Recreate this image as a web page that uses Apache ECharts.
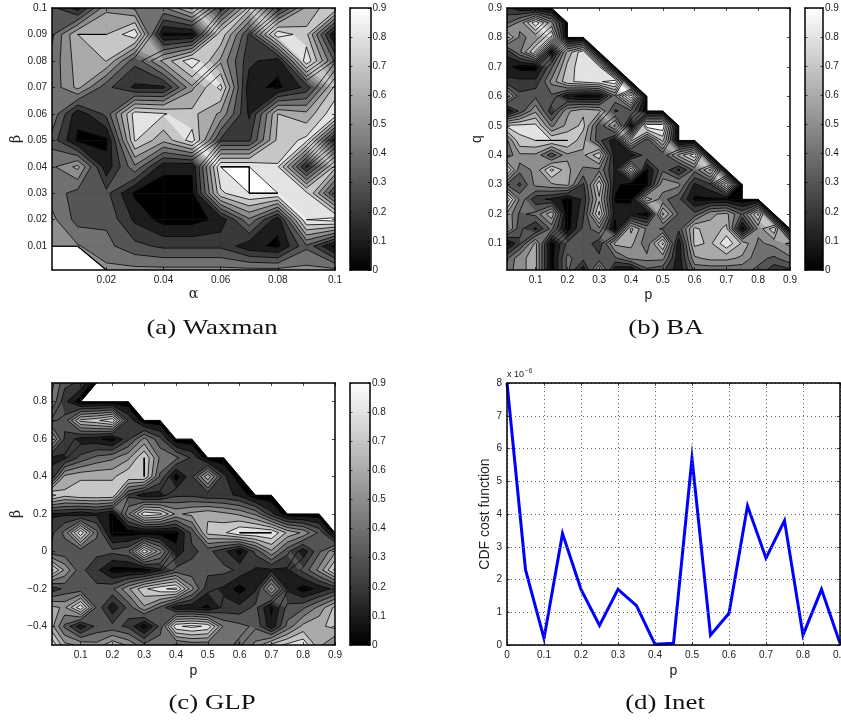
<!DOCTYPE html>
<html><head><meta charset="utf-8">
<style>html,body{margin:0;padding:0;background:#fff;overflow:hidden}#c{width:841px;height:721px}</style>
<script src="https://cdn.jsdelivr.net/npm/echarts@6/dist/echarts.min.js"></script>
</head><body><div id="c"></div>
<script>
const contourLevels=[0.0001,0.07,0.17,0.27,0.37,0.47,0.57,0.67,0.77,0.87];
const colorbarRange=[0,0.9];
const colorbarTicks=[0,0.1,0.2,0.3,0.4,0.5,0.6,0.7,0.8,0.9];

const waxmanAlpha=[0.001,0.01,0.02,0.03,0.04,0.05,0.06,0.07,0.08,0.09,0.1];
const waxmanBeta=[0.1,0.09,0.08,0.07,0.06,0.05,0.04,0.03,0.02,0.01,0.001];
const waxmanTicks=[0.01,0.02,0.03,0.04,0.05,0.06,0.07,0.08,0.09,0.1];
const waxmanXTicks=[0.02,0.04,0.06,0.08,0.1];
const waxmanValues=[
[.3,.12,.55,.45,.45,.7,.2,.7,.2,.6,.75],
[.35,.67,.67,.85,.05,.05,.75,.25,.85,.7,.05],
[.4,.62,.672,.3,.6,.85,.55,.2,.1,.85,.35],
[.4,.6,.3,.15,.15,.55,.8,.1,.05,.2,.7],
[.45,.1,.3,.82,.78,.7,.55,.15,.67,.6,.85],
[.33,.05,.05,.78,.6,.82,.25,.25,.7,.8,.1],
[.45,.6,.1,.45,.1,.08,.87,.87,.78,.15,.7],
[.42,.33,.3,.05,0.01,.05,.75,.87,.87,.8,.25],
[.5,.33,.35,.15,.03,.03,.1,.45,.1,.87,.92],
[.55,.48,.4,.3,.25,.25,.25,.1,.05,.35,.03],
[null,null,.5,.5,.5,.5,.5,.5,.5,.5,.5]];

const baP=[0.01,0.05,0.1,0.15,0.2,0.25,0.3,0.35,0.4,0.45,0.5,0.55,0.6,0.65,0.7,0.75,0.8,0.85,0.9];
const baQ=[0.9,0.85,0.8,0.75,0.7,0.65,0.6,0.55,0.5,0.45,0.4,0.35,0.3,0.25,0.2,0.15,0.1,0.05,0.01];
const baTicks=[0.1,0.2,0.3,0.4,0.5,0.6,0.7,0.8,0.9];
const baValues=[
[.2,.1,.05,0,0,0,0,0,0,0,0,0,0,0,0,0,0,0,0],
[.35,.5,.85,.5,0,0,0,0,0,0,0,0,0,0,0,0,0,0,0],
[.7,.45,.5,.8,0,0,0,0,0,0,0,0,0,0,0,0,0,0,0],
[.2,.45,.8,.05,.6,.85,0,0,0,0,0,0,0,0,0,0,0,0,0],
[.1,.03,.03,.35,.7,.85,.8,0,0,0,0,0,0,0,0,0,0,0,0],
[.2,.2,.2,.5,.75,.8,.85,.95,0,0,0,0,0,0,0,0,0,0,0],
[.65,.3,.35,.35,.1,.03,.05,.45,.95,0,0,0,0,0,0,0,0,0,0],
[.05,.3,.55,.2,.55,.65,.6,.25,.35,0,0,0,0,0,0,0,0,0,0],
[.8,.8,.8,.45,.6,.7,.3,.6,.03,.95,.95,0,0,0,0,0,0,0,0],
[.45,.75,.77,.77,.77,.6,.3,.1,.7,.3,.7,0,0,0,0,0,0,0,0],
[.4,.55,.55,.3,.55,.55,.75,.1,.1,.35,.3,.6,.85,0,0,0,0,0,0],
[.8,.4,.5,.8,.6,.45,.45,.15,.75,.05,.35,.15,.4,.7,0,0,0,0,0],
[.35,.25,.5,.55,.6,.25,.75,.1,.01,.05,.55,.5,.15,.25,.75,0,0,0,0],
[.85,.45,.2,.15,.02,.2,.65,.06,.06,.65,.4,.3,.05,.05,.05,0,0,0,0],
[.55,.35,.4,.65,.01,.25,.8,.1,.1,.02,.7,.35,.3,.55,.6,.35,.8,0,0],
[.6,.3,.15,.4,.02,.3,.45,.02,.7,.45,.35,.3,.7,.6,.7,.02,.5,.75,0],
[.03,.25,.6,.02,.3,.35,.2,.6,.6,.4,.8,.1,.7,.65,.85,.65,.45,.5,.6],
[.35,.55,.6,.02,.4,.3,.3,.35,.5,.5,.5,.1,.55,.6,.6,.55,.4,.35,.45],
[.4,.55,.6,.02,.4,.1,.6,.1,.05,.35,.3,.1,.4,.4,.4,.4,.35,.2,.25]];

const glpP=[0.01,0.05,0.1,0.15,0.2,0.25,0.3,0.35,0.4,0.45,0.5,0.55,0.6,0.65,0.7,0.75,0.8,0.85,0.9];
const glpBeta=[0.9,0.8,0.7,0.6,0.5,0.4,0.3,0.2,0.1,0,-0.1,-0.2,-0.3,-0.4,-0.5];
const glpYTicks=[-0.4,-0.2,0,0.2,0.4,0.6,0.8];
const glpValues=[
[.5,.3,.25,0,0,0,0,0,0,0,0,0,0,0,0,0,0,0,0],
[.45,.2,0,0,0,0,0,0,0,0,0,0,0,0,0,0,0,0,0],
[.25,.3,.7,.75,.85,.25,0,0,0,0,0,0,0,0,0,0,0,0,0],
[.6,.25,.12,.1,.02,.25,.5,.3,0,0,0,0,0,0,0,0,0,0,0],
[.15,.15,.3,.4,.45,.55,.77,.45,.4,.25,0,0,0,0,0,0,0,0,0],
[.2,.6,.65,.65,.65,.75,.77,.35,.02,.25,.65,.2,0,0,0,0,0,0,0],
[.8,.7,.75,.75,.75,.25,.1,.12,.25,.25,.2,.2,.15,0,0,0,0,0,0],
[.15,.15,.1,.15,.05,.45,.85,.8,.55,.6,.65,.6,.55,.45,.2,0,0,0,0],
[.25,.4,.85,.4,.02,.02,0.01,0.01,.03,.3,.7,.75,.87,.87,.87,.65,.55,.35,0],
[.3,.3,.3,.3,.3,.35,.85,.5,.1,.25,.3,.2,.03,.3,.55,.3,.1,.35,.55],
[.8,.55,.3,.2,.03,.03,.02,.15,.3,.3,.3,.3,.25,.15,.15,.15,.3,.5,.8],
[.2,.3,.3,.3,.35,.55,.75,.85,.9,.5,.2,.15,.02,.15,.6,.15,.02,.1,.2],
[.6,.55,.85,.35,.1,.3,.55,.35,.1,.1,.05,.2,.2,.3,.05,.3,.35,.5,.7],
[.6,.35,.1,.3,.3,.25,.02,.3,.85,.9,.85,.45,.4,.35,.1,.4,.6,.65,.7],
[.85,.6,.55,.5,.65,.55,.4,.45,.35,.4,.4,.4,.35,.5,.7,.8,.85,.6,.45]];

const inetP=[0,0.05,0.1,0.15,0.2,0.25,0.3,0.35,0.4,0.45,0.5,0.55,0.6,0.65,0.7,0.75,0.8,0.85,0.9];
const inetCost=[8,2.3,0.2,3.4,1.7,0.6,1.7,1.2,0.02,0.05,5.7,0.3,0.97,4.25,2.65,3.8,0.3,1.7,0.05];

const sansFont='"Liberation Sans",Arial,sans-serif';
const labelColor='#222';
const grey=k=>{const g=Math.round(255*Math.min(1,k/9));return `rgb(${g},${g},${g})`;};

function clipPoly(poly,L){
  const out=[];
  for(let k=0;k<poly.length;k++){
    const a=poly[k],b=poly[(k+1)%poly.length];
    const ia=a[2]>=L,ib=b[2]>=L;
    if(ia)out.push(a);
    if(ia!==ib){const t=(L-a[2])/(b[2]-a[2]);out.push([a[0]+t*(b[0]-a[0]),a[1]+t*(b[1]-a[1]),L]);}
  }
  return out;
}
function cellPoly(xs,ys,z,i,j){
  return [[i,j+1],[i+1,j+1],[i+1,j],[i,j]].map(([c,r])=>[xs[c],ys[r],z[r][c]]);
}
function contourPanel(xs,ys,z,xi,yi){
  const cells=[];
  for(let j=0;j<ys.length-1;j++)for(let i=0;i<xs.length-1;i++)cells.push([i,j]);
  const base={type:'custom',coordinateSystem:'cartesian2d',xAxisIndex:xi,yAxisIndex:yi,silent:true,animation:false,encode:{x:[],y:[]},clip:true};
  const fill={...base,z:2,data:contourLevels.map((L,k)=>[k]),
    renderItem(p,api){
      const k=p.dataIndex,L=contourLevels[k],children=[];
      cells.forEach(([i,j])=>{
        const poly=cellPoly(xs,ys,z,i,j).filter(v=>v[2]!==null);
        if(poly.length<3)return;
        const c=clipPoly(poly,L);
        if(c.length>=3)children.push({type:'polygon',silent:true,shape:{points:c.map(v=>api.coord([v[0],v[1]]))},style:{fill:grey(k),stroke:grey(k),lineWidth:0.6}});
      });
      return {type:'group',children};
    }};
  const lines={...base,z:3,data:cells,
    renderItem(p,api){
      const [i,j]=cells[p.dataIndex];
      const all=cellPoly(xs,ys,z,i,j);
      const poly=all.filter(v=>v[2]!==null);
      const children=[];
      const seg=(a,b,w)=>{const A=api.coord(a),B=api.coord(b);children.push({type:'line',silent:true,shape:{x1:A[0],y1:A[1],x2:B[0],y2:B[1]},style:{stroke:'#000',lineWidth:w}});};
      if(poly.length===2)seg(poly[0],poly[1],1.2);
      if(poly.length===3){const m=all.findIndex(v=>v[2]===null);seg(all[(m+1)%4],all[(m+3)%4],1.2);}
      if(poly.length<3)return {type:'group',children};
      contourLevels.forEach(L=>{
        const pts=[];
        for(let k=0;k<poly.length;k++){
          const a=poly[k],b=poly[(k+1)%poly.length];
          if((a[2]>=L)!==(b[2]>=L)){const t=(L-a[2])/(b[2]-a[2]);pts.push([a[0]+t*(b[0]-a[0]),a[1]+t*(b[1]-a[1])]);}
          if(a[2]===L&&b[2]===L)seg(a,b,1.1);
        }
        if(pts.length===2)seg(pts[0],pts[1],0.8);
        if(pts.length===4){seg(pts[0],pts[1],0.8);seg(pts[2],pts[3],0.8);}
      });
      return {type:'group',children};
    }};
  return [fill,lines];
}

const grids=[],xAxes=[],yAxes=[],series=[];
const axisLine={show:true,onZero:false,lineStyle:{color:'#000',width:1.5}};
const fmt=v=>String(+(+v).toFixed(3)).replace('-','\u2212');
function addAxes(rect,xr,yr,xt,yt,xname,yname,xgap,ygap,splitDots){
  const g=grids.length;
  grids.push({left:rect[0],top:rect[1],width:rect[2],height:rect[3],outerBoundsMode:'none'});
  const tick=vals=>({show:true,inside:true,length:3,lineStyle:{color:'#000',width:0.7},customValues:vals});
  const lab=vals=>({show:true,fontFamily:sansFont,fontSize:10,color:labelColor,margin:5,formatter:fmt,customValues:vals,hideOverlap:false,showMinLabel:true,showMaxLabel:true});
  const split=splitDots?{show:true,lineStyle:{color:'#666',type:[1,3],width:1}}:{show:false};
  const xi=xAxes.length,yi=yAxes.length;
  xAxes.push({type:'value',gridIndex:g,min:xr[0],max:xr[1],position:'bottom',z:5,axisLine,axisTick:tick(xt),axisLabel:lab(xt),splitLine:split,name:xname,nameLocation:'middle',nameGap:xgap,nameTextStyle:{fontFamily:xname==='\u03b1'?'"DejaVu Serif"':sansFont,fontSize:14,color:labelColor}});
  xAxes.push({type:'value',gridIndex:g,min:xr[0],max:xr[1],position:'top',z:5,axisLine,axisTick:tick(xt),axisLabel:{show:false},splitLine:{show:false}});
  yAxes.push({type:'value',gridIndex:g,min:yr[0],max:yr[1],position:'left',z:5,axisLine,axisTick:tick(yt),axisLabel:lab(yt),splitLine:split,name:yname,nameLocation:'middle',nameGap:ygap,nameTextStyle:{fontFamily:yname==='\u03b2'?'"DejaVu Serif"':sansFont,fontSize:14,color:labelColor}});
  yAxes.push({type:'value',gridIndex:g,min:yr[0],max:yr[1],position:'right',z:5,axisLine,axisTick:tick(yt),axisLabel:{show:false},splitLine:{show:false}});
  return [xi,yi];
}
function addColorbar(rect){
  const g=grids.length;
  grids.push({left:rect[0],top:rect[1],width:rect[2],height:rect[3],outerBoundsMode:'none'});
  const xi=xAxes.length,yi=yAxes.length;
  const tick={show:true,inside:true,length:2.5,lineStyle:{color:'#000',width:0.7}};
  xAxes.push({type:'value',gridIndex:g,min:0,max:1,position:'bottom',z:5,axisLine,axisTick:{show:false},axisLabel:{show:false},splitLine:{show:false}});
  xAxes.push({type:'value',gridIndex:g,min:0,max:1,position:'top',z:5,axisLine,axisTick:{show:false},axisLabel:{show:false},splitLine:{show:false}});
  yAxes.push({type:'value',gridIndex:g,min:colorbarRange[0],max:colorbarRange[1],position:'right',z:5,axisLine,axisTick:{...tick,customValues:colorbarTicks},axisLabel:{fontFamily:sansFont,fontSize:10,color:labelColor,margin:2,formatter:fmt,customValues:colorbarTicks,showMinLabel:true,showMaxLabel:true},splitLine:{show:false}});
  yAxes.push({type:'value',gridIndex:g,min:colorbarRange[0],max:colorbarRange[1],position:'left',z:5,axisLine,axisTick:{...tick,customValues:colorbarTicks},axisLabel:{show:false},splitLine:{show:false}});
  series.push({type:'custom',coordinateSystem:'cartesian2d',xAxisIndex:xi,yAxisIndex:yi,z:2,silent:true,animation:false,data:[[0,colorbarRange[0]]],encode:{x:[],y:[]},
    renderItem(p,api){
      const a=api.coord([0,colorbarRange[0]]),b=api.coord([1,colorbarRange[1]]);
      return {type:'rect',shape:{x:a[0],y:b[1],width:b[0]-a[0],height:a[1]-b[1]},style:{fill:new echarts.graphic.LinearGradient(0,1,0,0,[{offset:0,color:'#000'},{offset:1,color:'#fff'}])}};
    }});
}

let ax=addAxes([52,8,283,262],[0.001,0.1],[0.001,0.1],waxmanXTicks,waxmanTicks,'\u03b1','\u03b2',17,24);
series.push(...contourPanel(waxmanAlpha,waxmanBeta,waxmanValues,ax[0],ax[1]));
addColorbar([350,8,20.5,262]);

ax=addAxes([507,8,283,262],[0.01,0.9],[0.01,0.9],baTicks,baTicks,'p','q',18,20);
series.push(...contourPanel(baP,baQ,baValues,ax[0],ax[1]));
addColorbar([805,8,18,262]);

ax=addAxes([52,383,283,262],[0.01,0.9],[-0.5,0.9],baTicks,glpYTicks,'p','\u03b2',19,24);
series.push(...contourPanel(glpP,glpBeta,glpValues,ax[0],ax[1]));
addColorbar([350,383,20,262]);

ax=addAxes([507,383,333,262],[0,0.9],[0,8],[0,.1,.2,.3,.4,.5,.6,.7,.8,.9],[0,1,2,3,4,5,6,7,8],'p','CDF cost function',19,14,true);
series.push({type:'line',xAxisIndex:ax[0],yAxisIndex:ax[1],z:3,symbol:'none',animation:false,silent:true,
  lineStyle:{color:'#0000ff',width:3,join:'miter'},data:inetP.map((p,i)=>[p,inetCost[i]])});

const caption=(t,x,y,sx)=>({type:'text',x,y,scaleX:sx,silent:true,style:{text:t,fontFamily:'"Liberation Serif"',fontSize:22,fill:'#111',textAlign:'center',textVerticalAlign:'middle'}});
const graphic=[
  caption('(a) Waxman',212,328,1.22),
  caption('(b) BA',666,328,1.22),
  caption('(c) GLP',212,703,1.22),
  caption('(d) Inet',665,703,1.22),
  {type:'text',x:507,y:375,silent:true,style:{text:'x 10',fontFamily:sansFont,fontSize:9,fill:labelColor,textVerticalAlign:'middle'}},
  {type:'text',x:525,y:371,silent:true,style:{text:'\u22126',fontFamily:sansFont,fontSize:6.5,fill:labelColor,textVerticalAlign:'middle'}}
];

const chart=echarts.init(document.getElementById('c'),null,{renderer:'canvas',width:841,height:721});
chart.setOption({animation:false,backgroundColor:'#fff',grid:grids,xAxis:xAxes,yAxis:yAxes,series,graphic});
</script></body></html>
